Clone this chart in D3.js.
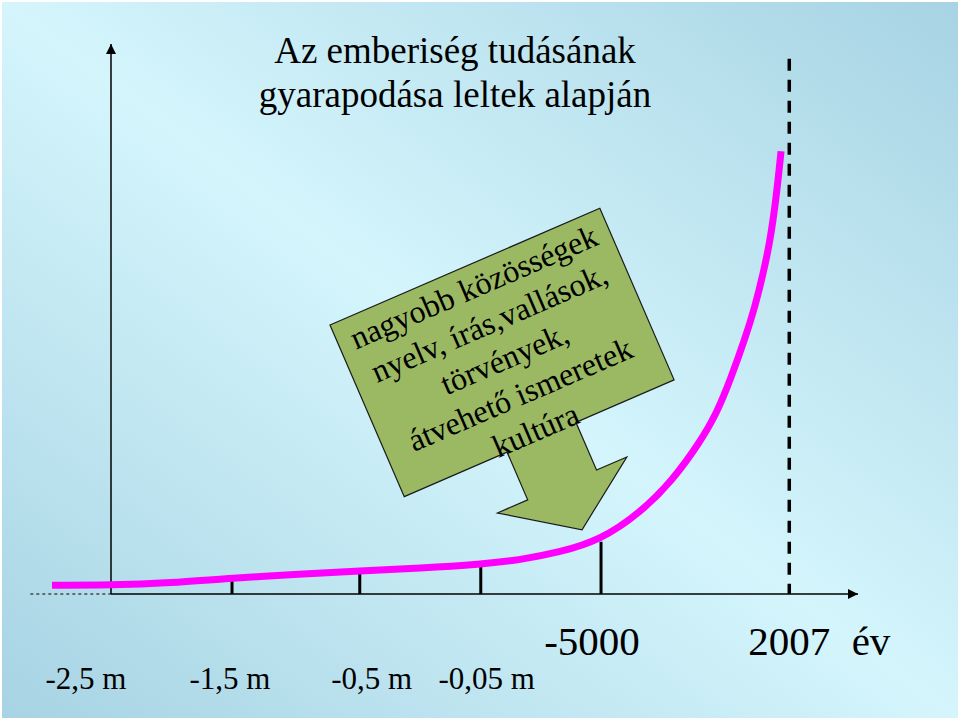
<!DOCTYPE html>
<html>
<head>
<meta charset="utf-8">
<script src="https://cdn.jsdelivr.net/npm/d3@7"></script>
<style>
  html, body { margin: 0; padding: 0; background: #fff; }
  svg { display: block; }
</style>
</head>
<body>
<svg id="chart" width="960" height="720"></svg>
<script>
// knowledge growth curve (x: 0..100 along the axis, y: 0..100 up the axis)
const curveX = [-7.9, 0, 7.9, 16.2, 25.3, 33.3, 41.4, 49.5, 54.8, 60.1, 65.5, 70.8, 75.2, 78.8, 81.1, 82.9, 84.9, 86.2, 87.3, 88.2, 89.0, 89.7];
const curveY = [1.6, 1.6, 2.0, 2.9, 3.6, 4.2, 4.7, 5.4, 6.2, 7.6, 9.8, 14.7, 20.7, 27.5, 32.9, 38.9, 46.5, 52.2, 58.2, 64.0, 71.4, 80.5];

// time marks on the axis
const tickPos = [16.2, 33.3, 49.5, 65.6];
const tickTop = [2.9, 4.2, 5.5, 9.5];
const nowPos = 90.8;
const nowTop = 97.3;

const smallLabels = ['-2,5 m', '-1,5 m', '-0,5 m', '-0,05 m'];
const smallLabelPos = [0, 16.2, 33.3, 49.5];
const bigLabels = ['-5000', '2007'];
const bigLabelPos = [65.6, 90.8];
const unitLabel = 'év';

const titleLines = ['Az emberiség tudásának', 'gyarapodása leltek alapján'];
const calloutLines = ['nagyobb közösségek', 'nyelv, írás,vallások,', 'törvények,', 'átvehető ismeretek', 'kultúra'];

const svg = d3.select('#chart'),
      width = +svg.attr('width'),
      height = +svg.attr('height');

const x = d3.scaleLinear().domain([0, 100]).range([111, 858]);
const y = d3.scaleLinear().domain([0, 100]).range([594, 44]);

// background
const defs = svg.append('defs');
const grad = defs.append('linearGradient')
  .attr('id', 'bg')
  .attr('x1', 0).attr('y1', 1)
  .attr('x2', 1).attr('y2', 0);
grad.append('stop').attr('offset', 0).attr('stop-color', '#a7d3e3');
grad.append('stop').attr('offset', 0.5).attr('stop-color', '#d4f5fc');
grad.append('stop').attr('offset', 1).attr('stop-color', '#a7d3e3');

svg.append('rect')
  .attr('x', 2).attr('y', 2)
  .attr('width', width - 4).attr('height', height - 4)
  .attr('fill', 'url(#bg)');

defs.append('marker')
  .attr('id', 'arrow')
  .attr('viewBox', '0 0 10 10')
  .attr('refX', 10).attr('refY', 5)
  .attr('markerWidth', 10).attr('markerHeight', 10)
  .attr('markerUnits', 'userSpaceOnUse')
  .attr('orient', 'auto')
  .append('path')
  .attr('d', 'M0,0L10,5L0,10Z')
  .attr('fill', '#000');

const serif = '"Liberation Serif", "Times New Roman", serif';

// title
svg.append('g')
  .selectAll('text')
  .data(titleLines)
  .enter().append('text')
  .attr('x', 455)
  .attr('y', (d, i) => 63 + i * 44)
  .attr('text-anchor', 'middle')
  .attr('font-family', serif)
  .attr('font-size', 37)
  .attr('fill', '#000')
  .text((d) => d);

// axes
svg.append('line')
  .attr('x1', x(0)).attr('y1', y(0))
  .attr('x2', x(0)).attr('y2', y(100))
  .attr('stroke', '#000').attr('stroke-width', 1.5)
  .attr('marker-end', 'url(#arrow)');

svg.append('line')
  .attr('x1', x(0)).attr('y1', y(0))
  .attr('x2', x(100)).attr('y2', y(0))
  .attr('stroke', '#000').attr('stroke-width', 1.5)
  .attr('marker-end', 'url(#arrow)');

svg.append('line')
  .attr('x1', x(-10.8)).attr('y1', y(0))
  .attr('x2', x(0)).attr('y2', y(0))
  .attr('stroke', '#000').attr('stroke-width', 1.2)
  .attr('stroke-dasharray', '3,3');

svg.append('g')
  .selectAll('line')
  .data(tickPos)
  .enter().append('line')
  .attr('x1', (d) => x(d)).attr('x2', (d) => x(d))
  .attr('y1', y(0))
  .attr('y2', (d, i) => y(tickTop[i]))
  .attr('stroke', '#000').attr('stroke-width', 3);

svg.append('line')
  .attr('x1', x(nowPos)).attr('x2', x(nowPos))
  .attr('y1', y(nowTop)).attr('y2', y(0))
  .attr('stroke', '#000').attr('stroke-width', 3.5)
  .attr('stroke-dasharray', '12,9');

// callout (rotated down-arrow box)
const callout = svg.append('g')
  .attr('transform', 'translate(330,325) rotate(-23.4)');

callout.append('path')
  .attr('d', 'M0,0H294V187H187V239H220L150,288L79,239H112V187H0Z')
  .attr('fill', '#9bb963')
  .attr('stroke', '#1a1a1a')
  .attr('stroke-width', 1.2)
  .attr('stroke-linejoin', 'miter');

callout.selectAll('text')
  .data(calloutLines)
  .enter().append('text')
  .attr('x', 147)
  .attr('y', (d, i) => 33 + i * 39)
  .attr('text-anchor', 'middle')
  .attr('font-family', serif)
  .attr('font-size', 32)
  .attr('fill', '#000')
  .text((d) => d);

// growth curve
const line = d3.line()
  .x((d) => x(d[0]))
  .y((d) => y(d[1]))
  .curve(d3.curveBasis);

svg.append('path')
  .datum(d3.zip(curveX, curveY))
  .attr('d', line)
  .attr('fill', 'none')
  .attr('stroke', '#ff00ff')
  .attr('stroke-width', 7);

// labels
const smallDx = [-25, -2, 12, 6];

svg.append('g')
  .selectAll('text')
  .data(smallLabels)
  .enter().append('text')
  .attr('x', (d, i) => x(smallLabelPos[i]) + smallDx[i])
  .attr('y', 689)
  .attr('text-anchor', 'middle')
  .attr('font-family', serif)
  .attr('font-size', 31)
  .text((d) => d);

const bigDx = [-9, 0];

svg.append('g')
  .selectAll('text')
  .data(bigLabels)
  .enter().append('text')
  .attr('x', (d, i) => x(bigLabelPos[i]) + bigDx[i])
  .attr('y', 655)
  .attr('text-anchor', 'middle')
  .attr('font-family', serif)
  .attr('font-size', 41)
  .text((d) => d);

svg.append('text')
  .attr('x', 871)
  .attr('y', 655)
  .attr('text-anchor', 'middle')
  .attr('font-family', serif)
  .attr('font-size', 41)
  .text(unitLabel);
</script>
</body>
</html>
